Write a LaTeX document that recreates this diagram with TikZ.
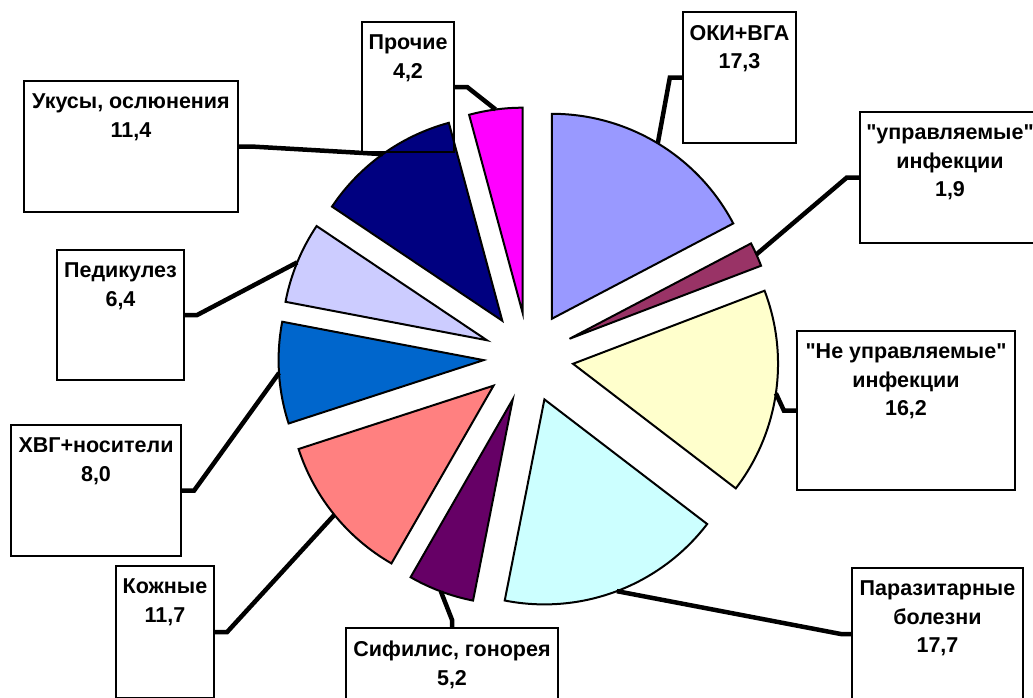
\documentclass[tikz,border=0pt]{standalone}
\usepackage{fontspec}
\setmainfont{Liberation Sans}
\newfontfamily\lblfont{Liberation Sans}
\usepackage{tikz}
\usetikzlibrary{positioning}
\definecolor{okiblue}{RGB}{153,153,255}
\definecolor{uprplum}{RGB}{153,51,102}
\definecolor{neuprcream}{RGB}{255,255,204}
\definecolor{parazcyan}{RGB}{204,255,255}
\definecolor{sifpurple}{RGB}{102,0,102}
\definecolor{kozhpink}{RGB}{255,128,128}
\definecolor{hvgblue}{RGB}{0,102,204}
\definecolor{pediklav}{RGB}{204,204,255}
\definecolor{ukusnavy}{RGB}{0,0,128}
\definecolor{prochmag}{RGB}{255,0,255}

\begin{document}
\begin{tikzpicture}[
    x=1pt, y=-1pt,
    slice/.style={draw=black, line width=2pt, fill=#1},
    box/.style={rectangle, draw, line width=2.3pt, inner sep=0pt},
    lbl/.style={align=center, inner sep=0pt, font=\lblfont\fontsize{21.5}{28.5}\selectfont\bfseries},
    leader/.style={line width=4.5pt},
]
    \clip (0,0) rectangle (1033,697);
    \fill[white] (0,0) rectangle (1033,697);
    \coordinate (ctr) at (528.5,357.3);

    % Slices (exploded, r=205)
    \coordinate (oki-o) at ([shift={(58.86:45pt)}]ctr);
    \draw[slice=okiblue] (oki-o) -- ++(90:205pt) arc[start angle=90, end angle=27.72, radius=205pt] -- cycle;
    \coordinate (oki-m) at ([shift={(58.86:205pt)}]oki-o);

    \coordinate (upr-o) at ([shift={(24.30:45pt)}]ctr);
    \draw[slice=uprplum] (upr-o) -- ++(27.72:205pt) arc[start angle=27.72, end angle=20.88, radius=205pt] -- cycle;
    \coordinate (upr-m) at ([shift={(24.30:205pt)}]upr-o);

    \coordinate (neupr-o) at ([shift={(-8.28:45pt)}]ctr);
    \draw[slice=neuprcream] (neupr-o) -- ++(20.88:205pt) arc[start angle=20.88, end angle=-37.44, radius=205pt] -- cycle;
    \coordinate (neupr-m) at ([shift={(-8.28:205pt)}]neupr-o);

    \coordinate (paraz-o) at ([shift={(-69.30:45pt)}]ctr);
    \draw[slice=parazcyan] (paraz-o) -- ++(-37.44:205pt) arc[start angle=-37.44, end angle=-101.16, radius=205pt] -- cycle;
    \coordinate (paraz-m) at ([shift={(-69.30:205pt)}]paraz-o);

    \coordinate (sif-o) at ([shift={(-110.52:45pt)}]ctr);
    \draw[slice=sifpurple] (sif-o) -- ++(-101.16:205pt) arc[start angle=-101.16, end angle=-119.88, radius=205pt] -- cycle;
    \coordinate (sif-m) at ([shift={(-110.52:205pt)}]sif-o);

    \coordinate (kozh-o) at ([shift={(-140.94:45pt)}]ctr);
    \draw[slice=kozhpink] (kozh-o) -- ++(-119.88:205pt) arc[start angle=-119.88, end angle=-162, radius=205pt] -- cycle;
    \coordinate (kozh-m) at ([shift={(-140.94:205pt)}]kozh-o);

    \coordinate (hvg-o) at ([shift={(-176.40:45pt)}]ctr);
    \draw[slice=hvgblue] (hvg-o) -- ++(-162:205pt) arc[start angle=-162, end angle=-190.80, radius=205pt] -- cycle;
    \coordinate (hvg-m) at ([shift={(-176.40:205pt)}]hvg-o);

    \coordinate (pedik-o) at ([shift={(-202.32:45pt)}]ctr);
    \draw[slice=pediklav] (pedik-o) -- ++(-190.80:205pt) arc[start angle=-190.80, end angle=-213.84, radius=205pt] -- cycle;
    \coordinate (pedik-m) at ([shift={(-202.32:205pt)}]pedik-o);

    \coordinate (ukus-o) at ([shift={(-234.36:45pt)}]ctr);
    \draw[slice=ukusnavy] (ukus-o) -- ++(-213.84:205pt) arc[start angle=-213.84, end angle=-254.88, radius=205pt] -- cycle;
    \coordinate (ukus-m) at ([shift={(-234.36:205pt)}]ukus-o);

    \coordinate (proch-o) at ([shift={(-262.44:45pt)}]ctr);
    \draw[slice=prochmag] (proch-o) -- ++(-254.88:205pt) arc[start angle=-254.88, end angle=-270, radius=205pt] -- cycle;
    \coordinate (proch-m) at ([shift={(-262.44:205pt)}]proch-o);

    % Label boxes
    \node[box, minimum width=92pt, minimum height=130pt] (proch) at (408,87) {};
    \node[lbl, below=14pt of proch.north] (proch-t) {Прочие\\4,2};

    \node[box, minimum width=113pt, minimum height=131pt] (oki) at (739.5,77.5) {};
    \node[lbl, below=14pt of oki.north] (oki-t) {ОКИ+ВГА\\17,3};

    \node[box, minimum width=180pt, minimum height=131pt] (upr) at (950,177.5) {};
    \node[lbl, below=14pt of upr.north] (upr-t) {"управляемые"\\инфекции\\1,9};

    \node[box, minimum width=218pt, minimum height=159pt] (neupr) at (906,410.5) {};
    \node[lbl, below=14pt of neupr.north] (neupr-t) {"Не управляемые"\\инфекции\\16,2};

    \node[box, minimum width=171pt, minimum height=132pt] (paraz) at (937.5,634) {};
    \node[lbl, below=14pt of paraz.north] (paraz-t) {Паразитарные\\болезни\\17,7};

    \node[box, minimum width=212pt, minimum height=131pt] (sif) at (452,693.5) {};
    \node[lbl, below=14pt of sif.north] (sif-t) {Сифилис, гонорея\\5,2};

    \node[box, minimum width=98pt, minimum height=132pt] (kozh) at (165,632) {};
    \node[lbl, below=14pt of kozh.north] (kozh-t) {Кожные\\11,7};

    \node[box, minimum width=170pt, minimum height=131pt] (hvg) at (96,490.5) {};
    \node[lbl, below=14pt of hvg.north] (hvg-t) {ХВГ+носители\\8,0};

    \node[box, minimum width=127pt, minimum height=130pt] (pedik) at (120.5,315) {};
    \node[lbl, below=14pt of pedik.north] (pedik-t) {Педикулез\\6,4};

    \node[box, minimum width=214pt, minimum height=131pt] (ukus) at (131,146.5) {};
    \node[lbl, below=14pt of ukus.north] (ukus-t) {Укусы, ослюнения\\11,4};

    % Leader lines
    \draw[leader] (proch.east) -- ++(12,0) -- (proch-m);
    \draw[leader] (oki.west) -- ++(-12,0) -- (oki-m);
    \draw[leader] (upr.west) -- ++(-12,0) -- (upr-m);
    \draw[leader] (neupr.west) -- ++(-12,0) -- (neupr-m);
    \draw[leader] (paraz.west) -- ++(-10,0) -- (paraz-m);
    \draw[leader] (sif.north) -- ++(0,-7) -- (sif-m);
    \draw[leader] (kozh.east) -- ++(12,0) -- (kozh-m);
    \draw[leader] (hvg.east) -- ++(12,0) -- (hvg-m);
    \draw[leader] (pedik.east) -- ++(12,0) -- (pedik-m);
    \draw[leader] (ukus.east) -- ++(12,0) -- (ukus-m);
\end{tikzpicture}
\end{document}
